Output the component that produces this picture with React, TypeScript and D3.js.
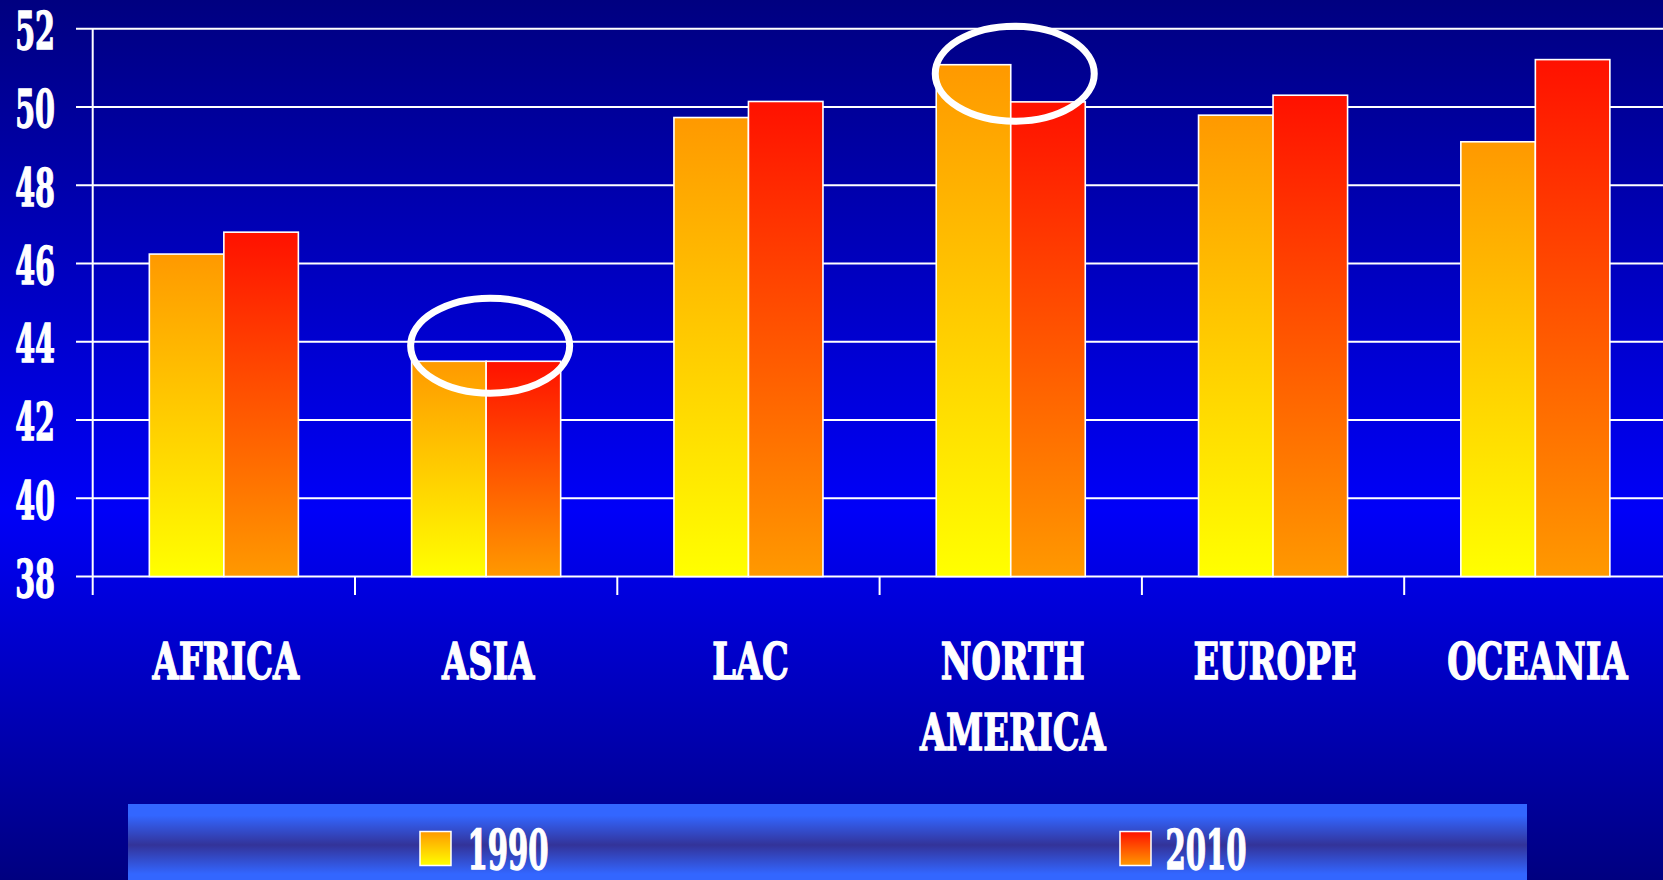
import React from "react";
import * as d3 from "d3";

const categories = ["AFRICA", "ASIA", "LAC", "NORTH AMERICA", "EUROPE", "OCEANIA"];
const seriesNames = ["1990", "2010"];
const values1990 = [46.24, 43.5, 49.73, 51.08, 49.79, 49.11];
const values2010 = [46.8, 43.5, 50.14, 50.13, 50.3, 51.21];
const yTicks = [38, 40, 42, 44, 46, 48, 50, 52];
const highlightCategories = ["ASIA", "NORTH AMERICA"];
const highlightValues = [43.9, 50.85];

const W = 1663;
const H = 880;
const FONT = "'DejaVu Serif', 'Liberation Serif', serif";

export default function App() {
  const left = 92.7;
  const step = 262.3;
  const x0 = d3
    .scaleBand<string>()
    .domain(categories)
    .range([left, left + step * categories.length])
    .padding(0);
  const x1 = d3
    .scaleBand<string>()
    .domain(seriesNames)
    .range([0, x0.bandwidth()])
    .paddingInner(0)
    .paddingOuter(0.76);
  const y = d3.scaleLinear().domain([38, 52]).range([576.5, 28.7]);
  const seriesValues = [values1990, values2010];
  const base = y(38);

  const splitLabel = (s: string) => (s === "NORTH AMERICA" ? ["NORTH", "AMERICA"] : [s]);

  return (
    <svg
      width={W}
      height={H}
      style={{ position: "absolute", left: 0, top: 0, display: "block" }}
    >
      <defs>
        <linearGradient id="bg" x1="0" y1="0" x2="0" y2="1">
          <stop offset="0" stopColor="#000080" />
          <stop offset="0.58" stopColor="#0000F8" />
          <stop offset="1" stopColor="#000080" />
        </linearGradient>
        <linearGradient id="g1990" x1="0" y1="0" x2="0" y2="1">
          <stop offset="0" stopColor="#FF9900" />
          <stop offset="1" stopColor="#FFFF00" />
        </linearGradient>
        <linearGradient id="g2010" x1="0" y1="0" x2="0" y2="1">
          <stop offset="0" stopColor="#FF1100" />
          <stop offset="1" stopColor="#FF9900" />
        </linearGradient>
        <linearGradient id="legbg" x1="0" y1="0" x2="0" y2="1">
          <stop offset="0" stopColor="#3366FF" />
          <stop offset="0.15" stopColor="#3366FF" />
          <stop offset="0.54" stopColor="#333399" />
          <stop offset="0.92" stopColor="#3366FF" />
          <stop offset="1" stopColor="#3366FF" />
        </linearGradient>
      </defs>

      <rect x={0} y={0} width={W} height={H} fill="url(#bg)" />

      {/* gridlines and y ticks */}
      {yTicks.map((t) => (
        <g key={t}>
          <line x1={76} x2={W} y1={y(t)} y2={y(t)} stroke="#fff" strokeWidth={2} />
          <text
            transform={`translate(55,${y(t) + 20.5}) scale(0.54,1)`}
            textAnchor="end"
            fill="#fff"
            stroke="#fff"
            strokeWidth={1.4}
            fontFamily={FONT}
            fontWeight="bold"
            fontSize={53}
          >
            {t}
          </text>
        </g>
      ))}

      {/* y axis line */}
      <line x1={left} x2={left} y1={y(52)} y2={base + 18.5} stroke="#fff" strokeWidth={2} />

      {/* category ticks */}
      {categories.map((c) => (
        <line
          key={"t" + c}
          x1={(x0(c) as number) + x0.bandwidth()}
          x2={(x0(c) as number) + x0.bandwidth()}
          y1={base}
          y2={base + 18.5}
          stroke="#fff"
          strokeWidth={2}
        />
      ))}

      {/* bars */}
      {categories.map((c, i) => (
        <g key={c} transform={`translate(${x0(c)},0)`}>
          {seriesNames.map((s, si) => {
            const v = seriesValues[si][i];
            return (
              <rect
                key={s}
                x={x1(s)}
                y={y(v)}
                width={x1.bandwidth()}
                height={base - y(v)}
                fill={si === 0 ? "url(#g1990)" : "url(#g2010)"}
                stroke="#fff"
                strokeWidth={1.6}
              />
            );
          })}
        </g>
      ))}

      {/* category labels */}
      {categories.map((c) => {
        const cx = (x0(c) as number) + x0.bandwidth() / 2 + 2;
        return splitLabel(c).map((line, li) => (
          <text
            key={c + li}
            transform={`translate(${cx},${679 + li * 70.5}) scale(0.66,1)`}
            textAnchor="middle"
            fill="#fff"
            stroke="#fff"
            strokeWidth={1.4}
            fontFamily={FONT}
            fontWeight="bold"
            fontSize={51}
          >
            {line}
          </text>
        ));
      })}

      {/* highlight ellipses */}
      {highlightCategories.map((c, i) => (
        <ellipse
          key={"e" + c}
          cx={(x0(c) as number) + x0.bandwidth() / 2 + 4}
          cy={y(highlightValues[i])}
          rx={79.5}
          ry={47.5}
          fill="none"
          stroke="#fff"
          strokeWidth={7}
        />
      ))}

      {/* legend */}
      <rect x={128} y={804} width={1399} height={76} fill="url(#legbg)" />
      {seriesNames.map((s, si) => {
        const sx = si === 0 ? 420 : 1120;
        const tx = si === 0 ? 467.5 : 1165.5;
        return (
          <g key={"l" + s}>
            <rect
              x={sx}
              y={831.5}
              width={31}
              height={34}
              fill={si === 0 ? "url(#g1990)" : "url(#g2010)"}
              stroke="#fff"
              strokeWidth={1.5}
            />
            <text
              transform={`translate(${tx},869) scale(0.54,1)`}
              fill="#fff"
              stroke="#fff"
              strokeWidth={1.4}
              fontFamily={FONT}
              fontWeight="bold"
              fontSize={54}
            >
              {s}
            </text>
          </g>
        );
      })}
    </svg>
  );
}
